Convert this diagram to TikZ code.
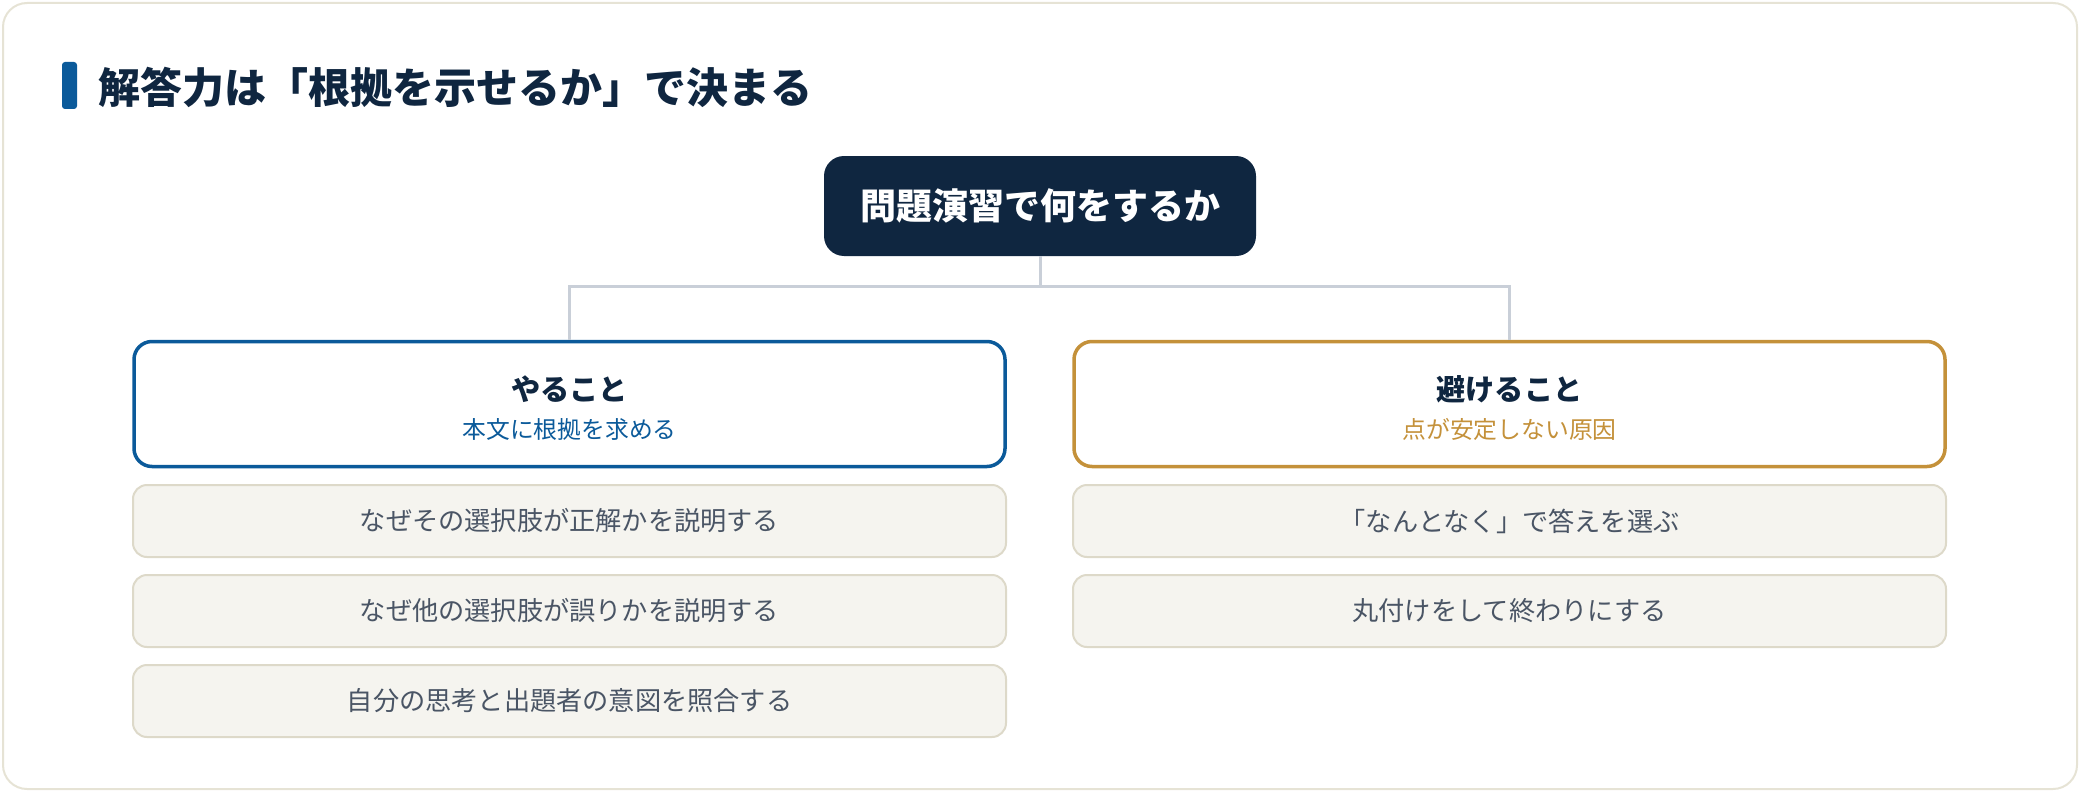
\documentclass[tikz,border=0pt]{standalone}
\usepackage{fontspec}
\setmainfont{Noto Sans CJK JP}
\usetikzlibrary{calc}
\definecolor{navy}{HTML}{0F2640}
\definecolor{accblue}{HTML}{0B5A9A}
\definecolor{gold}{HTML}{C4913A}
\definecolor{itemfill}{HTML}{F5F4EF}
\definecolor{itemline}{HTML}{DDD9C9}
\definecolor{itemtext}{HTML}{4A5565}
\definecolor{connline}{HTML}{C9CFD8}
\definecolor{cardline}{HTML}{E6E3D5}
\begin{document}
\begin{tikzpicture}[x=0.5pt,y=-0.5pt,
  rootbox/.style={fill=navy, rounded corners=10pt, minimum width=216pt, minimum height=50pt,
    text=white, font=\bfseries\fontsize{18pt}{21pt}\selectfont, inner sep=0pt},
  headbox/.style={fill=white, line width=1.75pt, rounded corners=9pt,
    minimum width=435.5pt, minimum height=62.5pt, inner sep=0pt},
  headtitle/.style={text=navy, font=\bfseries\fontsize{14.6pt}{17pt}\selectfont, inner sep=0pt},
  headsub/.style={font=\fontsize{11.9pt}{14pt}\selectfont, inner sep=0pt},
  itembox/.style={fill=itemfill, draw=itemline, line width=1pt, rounded corners=7pt,
    minimum width=436.5pt, minimum height=36pt, inner sep=0pt,
    text=itemtext, font=\fontsize{13.1pt}{15pt}\selectfont},
  conn/.style={draw=connline, line width=1.5pt}
]
\useasboundingbox (0,0) rectangle (2080,792);
% card
\draw[draw=cardline, line width=1pt, fill=white, rounded corners=12pt] (3,3) rectangle (2077,789);
% title
\fill[accblue, rounded corners=1.5pt] (62,62) rectangle (77,109);
\node[anchor=west, inner sep=0pt, text=navy, font=\bfseries\fontsize{21pt}{24pt}\selectfont] (title) at (98,87) {解答力は「根拠を示せるか」で決まる};
% root
\node[rootbox] (root) at (1040,206) {問題演習で何をするか};
% headers
\node[headbox, draw=accblue] (doH) at (569.5,404) {};
\node[headbox, draw=gold] (avH) at (1509.5,404) {};
\node[headtitle] (doT) at (569.5,389) {やること};
\node[headsub, text=accblue] (doS) at (569.5,429) {本文に根拠を求める};
\node[headtitle] (avT) at (1509.5,389) {避けること};
\node[headsub, text=gold] (avS) at (1509.5,429) {点が安定しない原因};
% connectors
\draw[conn] (root.south) -- ++(0,30) coordinate (j);
\draw[conn] (j) -| (doH.north);
\draw[conn] (j) -| (avH.north);
% items
\node[itembox] (d1) at (569.5,521) {なぜその選択肢が正解かを説明する};
\node[itembox] (d2) at (569.5,611) {なぜ他の選択肢が誤りかを説明する};
\node[itembox] (d3) at (569.5,701) {自分の思考と出題者の意図を照合する};
\node[itembox] (a1) at (1509.5,521) {「なんとなく」で答えを選ぶ};
\node[itembox] (a2) at (1509.5,611) {丸付けをして終わりにする};
\end{tikzpicture}
\end{document}
